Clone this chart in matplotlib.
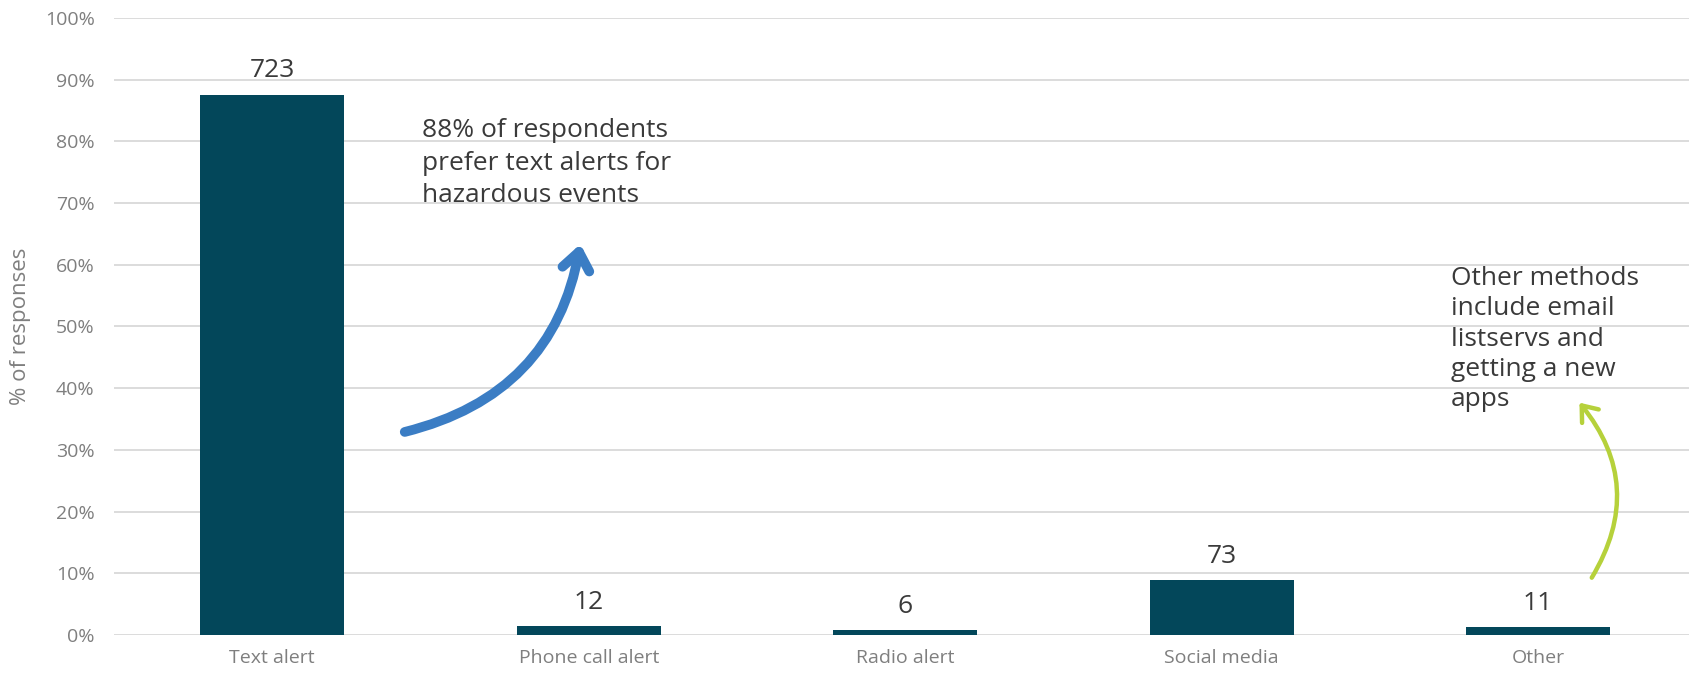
import matplotlib
matplotlib.use("Agg")
import matplotlib.pyplot as plt
from matplotlib.patches import FancyArrowPatch
from matplotlib.ticker import PercentFormatter

plt.rcParams['font.family'] = ['Open Sans', 'DejaVu Sans']

# data
categories = ['Text alert', 'Phone call alert', 'Radio alert', 'Social media', 'Other']
counts = [723, 12, 6, 73, 11]
pct_responses = [87.6, 1.45, 0.73, 8.85, 1.33]

bar_color = '#03475a'
grid_color = '#d9d9d9'
tick_grey = '#7f7f7f'
text_dark = '#3a3a3a'

fig = plt.figure(figsize=(16.9, 6.75), dpi=100)
ax = fig.add_axes([0.0675, 0.0593, 0.9325, 0.914])

x = list(range(len(categories)))
bars = ax.bar(x, pct_responses, width=0.455, color=bar_color, zorder=3)

# count labels above each bar
for rect, n in zip(bars, counts):
    ax.annotate(str(n), (rect.get_x() + rect.get_width() / 2, rect.get_height()),
                xytext=(0, 8), textcoords='offset points',
                ha='center', va='bottom', fontsize=19, color=text_dark)

ax.set_xlim(-0.5, 4.48)
ax.set_ylim(0, 100)
ax.set_yticks(range(0, 101, 10))
ax.yaxis.set_major_formatter(PercentFormatter(decimals=0))
ax.set_xticks(x)
ax.set_xticklabels(categories)
ax.tick_params(axis='both', length=0, labelsize=14, labelcolor=tick_grey)
ax.tick_params(axis='x', pad=10)
ax.tick_params(axis='y', pad=14)
ax.grid(axis='y', color=grid_color, linewidth=1.3, zorder=0)
for s in ax.spines.values():
    s.set_visible(False)
ax.set_ylabel('% of responses', fontsize=16, color=tick_grey)
ax.yaxis.set_label_coords(-0.0525, 0.5)

# callouts
ax.text(0.473, 83.8, '88% of respondents\nprefer text alerts for\nhazardous events',
        ha='left', va='top', fontsize=19, color=text_dark, linespacing=1.4)
ax.text(3.724, 59.8, 'Other methods\ninclude email\nlistservs and\ngetting a new\napps',
        ha='left', va='top', fontsize=19, color=text_dark, linespacing=1.28)

blue_arrow = FancyArrowPatch((0.41, 32.8), (0.975, 63.8),
                             connectionstyle='arc3,rad=0.33',
                             arrowstyle='->,head_length=0.45,head_width=0.35',
                             mutation_scale=28, color='#3b7dc4', linewidth=7,
                             capstyle='round', joinstyle='round', zorder=4)
ax.add_patch(blue_arrow)

green_arrow = FancyArrowPatch((4.165, 8.9), (4.125, 38.0),
                              connectionstyle='arc3,rad=0.36',
                              arrowstyle='->,head_length=0.45,head_width=0.35',
                              mutation_scale=22, color='#b6d13b', linewidth=3.2,
                              capstyle='round', joinstyle='round', zorder=4)
ax.add_patch(green_arrow)

fig.savefig('out.png', dpi=100)
